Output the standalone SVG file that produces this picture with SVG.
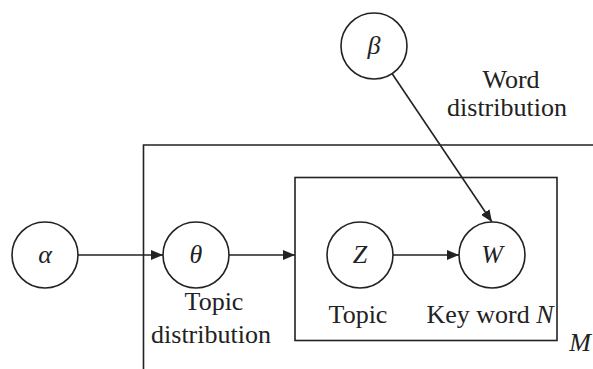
<svg xmlns="http://www.w3.org/2000/svg" width="593" height="369" viewBox="0 0 593 369">
<style>
.n{fill:#fff;stroke:#222;stroke-width:1.6}
.e{fill:none;stroke:#222;stroke-width:1.6}
.t{font-family:"Liberation Serif","Times New Roman",serif;font-size:26px;fill:#222;text-anchor:middle}
.g{font-family:"Liberation Serif","Times New Roman",serif;font-size:26px;font-style:italic;fill:#222;text-anchor:middle}
</style>
<defs>
<marker id="a" viewBox="0 0 12 10" refX="12" refY="5" markerWidth="12" markerHeight="10" markerUnits="userSpaceOnUse" orient="auto">
<path d="M0,0 L12,5 L0,10 Z" fill="#222"/>
</marker>
</defs>
<rect width="593" height="369" fill="#fff"/>
<g id="plates">
<path class="e" d="M143.5,369 V145 H593"/>
<rect class="e" x="295" y="177.5" width="262" height="163"/>
<text class="g" x="580" y="351">M</text>
</g>
<g id="connectors">
<line class="e" x1="78" y1="255" x2="163" y2="255" marker-end="url(#a)"/>
<line class="e" x1="229" y1="255" x2="295" y2="255" marker-end="url(#a)"/>
<line class="e" x1="393" y1="255" x2="459" y2="255" marker-end="url(#a)"/>
<line class="e" x1="392" y1="73.5" x2="492" y2="222" marker-end="url(#a)"/>
</g>
<g id="alpha">
<circle class="n" cx="45" cy="255" r="33"/>
<text class="g" x="45" y="263">α</text>
</g>
<g id="theta">
<circle class="n" cx="196" cy="255" r="33"/>
<text class="g" x="196" y="263">θ</text>
<text class="t" x="214" y="310">Topic</text>
<text class="t" x="211" y="343">distribution</text>
</g>
<g id="z">
<circle class="n" cx="360" cy="255" r="33"/>
<text class="g" x="360" y="263">Z</text>
<text class="t" x="358" y="323">Topic</text>
</g>
<g id="w">
<circle class="n" cx="492" cy="255" r="33"/>
<text class="g" x="492" y="263">W</text>
<text class="t" x="490" y="323">Key word <tspan font-style="italic">N</tspan></text>
</g>
<g id="beta">
<circle class="n" cx="374" cy="46" r="33"/>
<text class="g" x="374" y="54">β</text>
<text class="t" x="511" y="88">Word</text>
<text class="t" x="507" y="116">distribution</text>
</g>
</svg>
